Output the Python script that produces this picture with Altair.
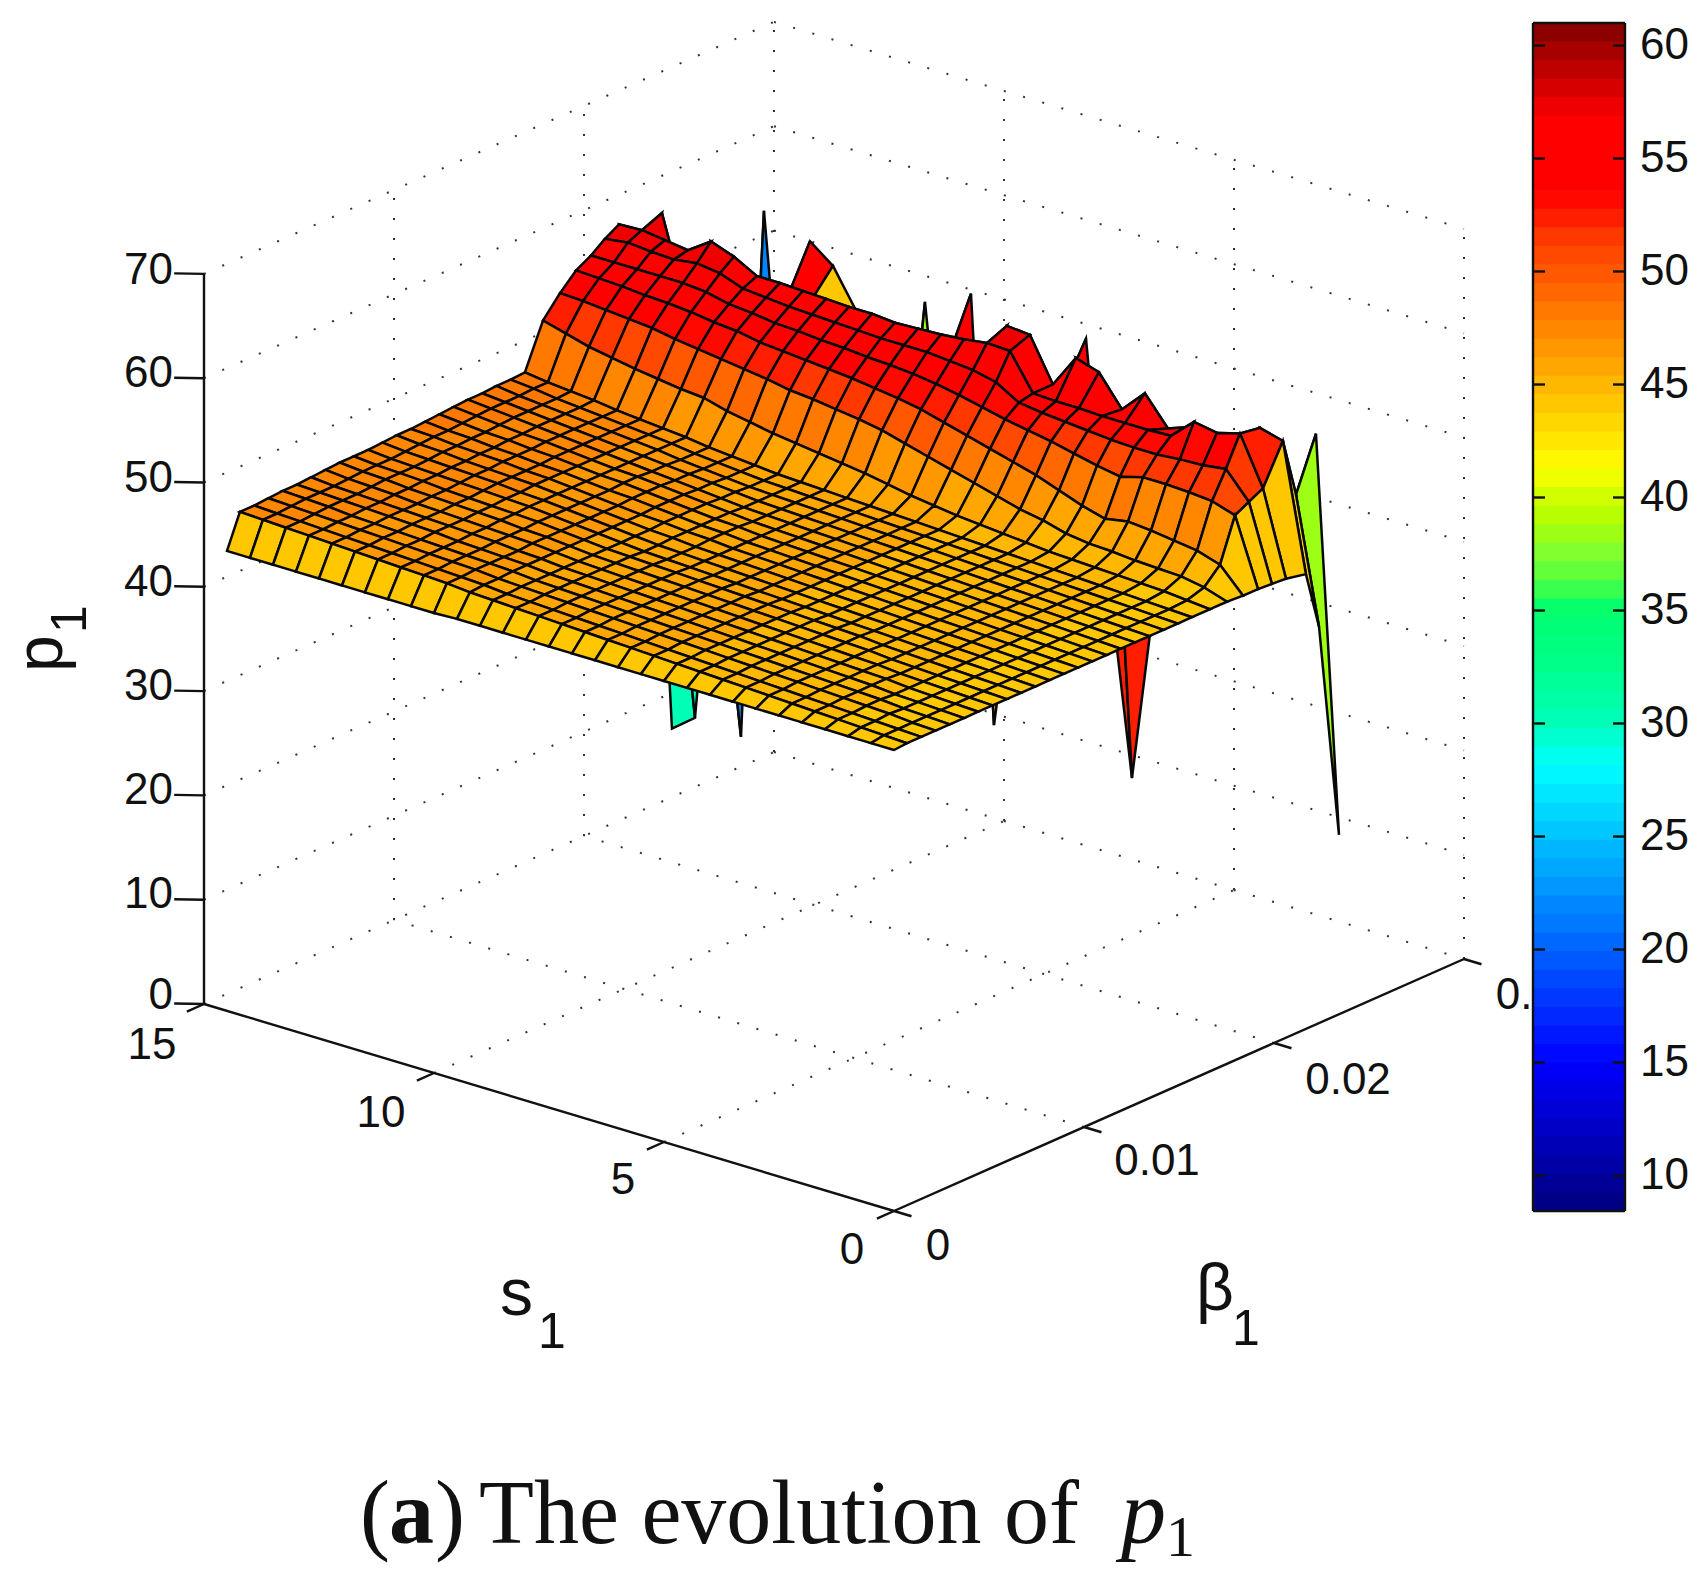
import altair as alt
import pandas as pd

# axes
s_ticks = [0, 5, 10, 15]
beta_ticks = [0, 0.01, 0.02, 0.03]
p_ticks = [0, 10, 20, 30, 40, 50, 60, 70]
cbar_ticks = [10, 15, 20, 25, 30, 35, 40, 45, 50, 55, 60]

s1 = [i * 0.5 for i in range(30)]
beta1 = [0, 0.00068, 0.00143, 0.00218, 0.00293, 0.00368, 0.00443, 0.00518, 0.00593,
         0.00668, 0.00743, 0.00818, 0.00893, 0.00968, 0.01043, 0.01118, 0.01193,
         0.01268, 0.01343, 0.01418, 0.01493, 0.01568,
         0.01663, 0.01753, 0.01837, 0.01916, 0.01989, 0.02063, 0.02168, 0.02237, 0.02342]

# p1, one row per beta1, s1 ascending
p1 = [
    [44.2, 44.2, 44.2, 44.2, 44.2, 44.2, 44.2, 44.2, 44.2, 44.2, 44.2, 44.2, 44.2, 44.2, 44.2, 44.2, 44.2, 44.2, 44.2, 44.2, 44.1, 44.1, 44.1, 44.1, 44.1, 44.1, 44.1, 44.1, 44.1, 44.1],
    [44.3, 44.4, 44.5, 44.6, 44.7, 44.8, 44.9, 45.0, 45.1, 45.2, 45.3, 45.4, 45.5, 45.6, 45.7, 45.8, 45.9, 46.0, 46.1, 46.2, 46.4, 46.5, 46.6, 46.7, 46.8, 46.9, 47.0, 47.1, 47.2, 47.3],
    [44.3, 44.4, 44.5, 44.6, 44.7, 44.8, 44.9, 45.0, 45.1, 45.2, 45.3, 45.4, 45.5, 45.6, 45.7, 45.8, 45.9, 46.0, 46.1, 46.3, 46.4, 46.5, 46.6, 46.7, 46.8, 46.9, 47.0, 47.1, 47.2, 47.3],
    [44.3, 44.4, 44.6, 44.7, 44.8, 44.9, 45.0, 45.1, 45.2, 45.3, 45.4, 45.5, 45.6, 45.7, 45.8, 45.9, 46.0, 46.1, 46.2, 46.3, 46.5, 46.6, 46.7, 46.8, 46.9, 47.0, 47.1, 47.2, 47.3, 47.4],
    [44.3, 44.4, 44.5, 44.7, 44.8, 44.9, 45.0, 45.1, 45.2, 45.3, 45.4, 45.5, 45.6, 45.7, 45.8, 45.9, 46.0, 46.1, 46.2, 46.4, 46.5, 46.6, 46.7, 46.8, 46.9, 47.0, 47.1, 47.3, 47.4, 47.5],
    [44.3, 44.4, 44.5, 44.6, 44.8, 44.9, 45.0, 45.1, 45.2, 45.3, 45.4, 45.5, 45.6, 45.7, 45.8, 45.9, 46.0, 46.1, 46.2, 46.4, 46.5, 46.6, 46.7, 46.9, 47.0, 47.1, 47.2, 47.3, 47.4, 47.5],
    [44.3, 44.4, 44.5, 44.6, 44.8, 44.9, 45.0, 45.1, 45.2, 45.3, 45.4, 45.5, 45.6, 45.7, 45.8, 45.9, 46.0, 46.1, 46.2, 46.4, 46.5, 46.7, 46.8, 46.9, 47.0, 47.1, 47.2, 47.3, 47.4, 47.6],
    [44.3, 44.4, 44.5, 44.6, 44.7, 44.9, 45.0, 45.1, 45.2, 45.3, 45.4, 45.5, 45.6, 45.7, 45.8, 45.9, 46.0, 46.1, 46.2, 46.4, 46.6, 46.7, 46.8, 46.9, 47.0, 47.1, 47.3, 47.4, 47.5, 47.7],
    [44.3, 44.4, 44.5, 44.6, 44.7, 44.8, 45.0, 45.1, 45.2, 45.3, 45.4, 45.5, 45.6, 45.7, 45.8, 45.9, 46.0, 46.1, 46.2, 46.4, 46.6, 46.7, 46.9, 47.0, 47.1, 47.2, 47.3, 47.5, 47.6, 47.8],
    [44.3, 44.4, 44.5, 44.6, 44.7, 44.8, 44.9, 45.1, 45.2, 45.3, 45.4, 45.5, 45.6, 45.7, 45.8, 45.9, 46.0, 46.1, 46.2, 46.4, 46.6, 46.8, 46.9, 47.0, 47.1, 47.2, 47.4, 47.5, 47.6, 47.8],
    [44.3, 44.4, 44.5, 44.6, 44.7, 44.8, 44.9, 45.0, 45.1, 45.2, 45.3, 45.4, 45.5, 45.6, 45.7, 45.8, 45.9, 46.0, 46.2, 46.4, 46.6, 46.8, 47.0, 47.1, 47.2, 47.3, 47.4, 47.5, 47.6, 47.8],
    [44.3, 44.4, 44.5, 44.6, 44.7, 44.8, 44.9, 45.0, 45.1, 45.2, 45.3, 45.4, 45.5, 45.6, 45.7, 45.8, 45.9, 46.0, 46.2, 46.4, 46.6, 46.8, 47.0, 47.1, 47.3, 47.4, 47.5, 47.6, 47.7, 47.9],
    [44.3, 44.4, 44.5, 44.6, 44.7, 44.8, 44.9, 45.0, 45.1, 45.2, 45.3, 45.4, 45.5, 45.6, 45.7, 45.8, 45.9, 46.1, 46.2, 46.4, 46.6, 46.8, 47.0, 47.2, 47.3, 47.4, 47.5, 47.7, 47.8, 48.0],
    [44.3, 44.4, 44.5, 44.6, 44.7, 44.8, 44.9, 45.0, 45.1, 45.2, 45.3, 45.4, 45.5, 45.6, 45.7, 45.8, 46.0, 46.1, 46.3, 46.4, 46.6, 46.8, 47.0, 47.2, 47.3, 47.5, 47.6, 47.7, 47.9, 48.0],
    [44.3, 44.4, 44.5, 44.6, 44.7, 44.8, 44.9, 45.0, 45.1, 45.2, 45.3, 45.4, 45.5, 45.6, 45.7, 45.8, 46.0, 46.1, 46.3, 46.5, 46.7, 46.8, 47.0, 47.2, 47.3, 47.5, 47.6, 47.8, 47.9, 48.1],
    [44.3, 44.4, 44.5, 44.6, 44.7, 44.8, 44.9, 45.0, 45.1, 45.2, 45.3, 45.4, 45.5, 45.6, 45.7, 45.8, 46.0, 46.1, 46.3, 46.5, 46.7, 46.9, 47.0, 47.2, 47.4, 47.5, 47.7, 47.8, 48.0, 48.2],
    [44.3, 44.4, 44.5, 44.6, 44.7, 44.8, 44.9, 45.0, 45.1, 45.2, 45.3, 45.4, 45.5, 45.6, 45.7, 45.8, 45.9, 46.1, 46.3, 46.5, 46.7, 46.9, 47.0, 47.2, 47.4, 47.6, 47.7, 47.9, 48.1, 48.3],
    [44.3, 44.4, 44.5, 44.6, 44.7, 44.8, 44.9, 45.0, 45.1, 45.2, 45.3, 45.4, 45.5, 45.6, 45.7, 45.8, 45.9, 46.0, 46.2, 46.4, 46.6, 46.8, 47.0, 47.2, 47.4, 47.6, 47.8, 48.0, 48.2, 48.4],
    [44.3, 44.4, 44.5, 44.6, 44.7, 44.8, 44.9, 45.0, 45.1, 45.2, 45.3, 45.4, 45.5, 45.6, 45.7, 45.8, 45.9, 46.0, 46.2, 46.4, 46.6, 46.8, 47.0, 47.2, 47.4, 47.6, 47.8, 48.0, 48.2, 48.4],
    [44.3, 44.4, 44.5, 44.6, 44.7, 44.8, 44.9, 45.0, 45.1, 45.2, 45.3, 45.4, 45.5, 45.6, 45.7, 45.8, 45.9, 46.0, 46.1, 46.3, 46.5, 46.7, 47.0, 47.2, 47.4, 47.6, 47.8, 48.0, 48.2, 48.5],
    [44.3, 44.4, 44.5, 44.6, 44.7, 44.8, 44.9, 45.0, 45.1, 45.2, 45.3, 45.4, 45.5, 45.6, 45.7, 45.8, 45.9, 46.0, 46.1, 46.3, 46.5, 46.7, 47.0, 47.2, 47.4, 47.6, 47.8, 48.0, 48.3, 48.5],
    [44.3, 44.4, 44.5, 44.6, 44.7, 44.8, 44.9, 45.0, 45.1, 45.2, 45.3, 45.4, 45.5, 45.6, 45.7, 45.8, 45.9, 46.0, 46.1, 46.3, 46.5, 46.7, 47.0, 47.2, 47.4, 47.6, 47.9, 48.1, 48.3, 48.6],
    [44.3, 44.5, 44.7, 44.8, 44.9, 45.0, 45.1, 45.2, 45.4, 45.6, 45.8, 46.0, 46.3, 46.6, 47.0, 47.4, 47.7, 48.0, 48.3, 48.6, 49.0, 49.4, 50.0, 50.2, 50.5, 50.8, 51.2, 51.6, 52.2, 52.8],
    [44.3, 45.0, 45.4, 45.5, 45.6, 45.8, 45.9, 46.2, 46.8, 47.2, 47.8, 48.4, 49.0, 49.6, 50.2, 50.8, 51.2, 51.5, 51.8, 52.0, 52.4, 52.7, 53.0, 53.3, 53.6, 54.0, 54.2, 54.4, 54.6, 54.7],
    [44.2, 46.5, 47.2, 47.5, 47.8, 48.0, 47.6, 48.2, 49.0, 49.8, 50.4, 51.0, 51.6, 52.2, 52.8, 53.2, 53.5, 53.8, 54.0, 54.2, 54.4, 54.6, 55.0, 55.2, 55.5, 55.7, 55.8, 56.0, 56.1, 56.2],
    [44.2, 50.6, 51.3, 51.5, 51.6, 51.6, 51.0, 51.4, 51.9, 52.4, 52.8, 53.2, 53.7, 54.2, 54.6, 54.9, 55.1, 55.2, 55.4, 55.5, 55.7, 55.8, 56.1, 56.3, 56.8, 57.0, 57.0, 57.0, 57.0, 57.0],
    [44.1, 51.3, 53.8, 53.5, 53.4, 53.2, 53.2, 53.3, 53.5, 53.7, 53.9, 54.2, 55.5, 56.0, 56.2, 56.4, 56.4, 56.4, 56.5, 56.6, 56.7, 56.8, 57.0, 57.2, 58.0, 58.3, 58.0, 58.1, 58.3, 58.0],
    [44.0, 52.0, 56.6, 56.0, 56.4, 54.4, 54.3, 54.3, 54.3, 54.4, 54.4, 54.5, 57.9, 58.0, 57.7, 57.5, 57.4, 57.3, 57.5, 57.5, 57.6, 57.7, 57.8, 57.8, 59.0, 59.8, 58.3, 58.6, 58.9, 58.8],
    [43.6, 55.7, 56.3, 54.0, 54.0, 54.4, 53.6, 56.3, 54.1, 57.0, 57.7, 54.5, 58.6, 58.8, 52.0, 52.0, 52.0, 52.0, 52.0, 52.0, 52.0, 52.0, 52.0, 52.0, 52.0, 52.0, 52.0, 52.0, 59.7, 50.0],
    [38.0, 50.0, 50.0, 46.0, 46.0, 46.0, 46.0, 46.0, 52.5, 52.5, 54.0, 54.0, 46.0, 46.0, 46.0, 54.0, 54.0, 38.0, 38.0, 46.0, 46.0, 44.0, 55.0, 55.0, 22.0, 22.0, 28.0, 30.0, 30.0, 46.0],
    [17.2, 55.0, 42.0, 42.0, 42.0, 42.0, 35.0, 35.0, 35.0, 16.7, 35.0, 57.5, 35.0, 35.0, 35.0, 17.8, 58.5, 35.0, 56.4, 35.0, 35.0, 53.6, 57.2, 58.9, 35.0, 60.5, 9.4, 35.0, 9.9, 8.2],
]

CBAR_MIN, CBAR_MAX = 8.4, 61.0
W, H = 1684, 1561

# the green and red stretches of the reference colorbar are not plain jet
color_stops = [(28.1, (0, 255, 255)), (30, (0, 255, 185)), (33, (0, 255, 130)), (35, (0, 255, 112)),
               (36.3, (80, 255, 64)), (37.5, (128, 255, 48)), (39, (176, 255, 0)),
               (40, (208, 255, 0)), (41.3, (255, 255, 0))]
red_stops = [(52.0, (255, 40, 0)), (53.5, (255, 0, 0)), (56.8, (255, 0, 0)), (57.7, (226, 0, 0)),
             (58.5, (204, 0, 0)), (60, (160, 0, 0)), (61, (128, 0, 0))]


def jet(t):
    v = CBAR_MIN + t * (CBAR_MAX - CBAR_MIN)
    for stops in (color_stops, red_stops):
        for (v0, c0), (v1, c1) in zip(stops, stops[1:]):
            if v0 <= v <= v1:
                f = (v - v0) / (v1 - v0)
                return "#%02x%02x%02x" % tuple(round(a + f * (b - a)) for a, b in zip(c0, c1))

    def ch(c):
        return max(0.0, min(1.0, 1.5 - abs(4 * t - c)))
    r, g, b = ch(3), ch(2), ch(1)
    return "#%02x%02x%02x" % (round(r * 255), round(g * 255), round(b * 255))


jet_colors = [jet((k + 0.5) / 64) for k in range(64)]
color_scale = alt.Scale(type="quantize", domain=[CBAR_MIN, CBAR_MAX], range=jet_colors)
x_scale = alt.Scale(domain=[8, 8 + W], nice=False, zero=False)
y_scale = alt.Scale(domain=[8 + H, 8], nice=False, zero=False)


def project(s, b, p):
    return 894 - 46.0 * s + 19000.0 * b, 1211 - 13.8 * s - 8400.0 * b - 10.43 * p


def cell_colour(p):
    # top of the plateau reads a unit lower in colour than in height
    return p - 1 if p >= 56 else p


def segments(rows):
    out = []
    for a, b in rows:
        x1, y1 = project(*a)
        x2, y2 = project(*b)
        out.append({"x": x1, "y": y1, "x2": x2, "y2": y2})
    return pd.DataFrame(out)


def rules(rows, **mark):
    return alt.Chart(segments(rows)).mark_rule(**mark).encode(
        x=alt.X("x:Q", scale=x_scale, axis=None),
        y=alt.Y("y:Q", scale=y_scale, axis=None),
        x2="x2:Q",
        y2="y2:Q",
    )


def label(text, x, y, size=44, align="center", baseline="middle", font="Liberation Sans", **kw):
    df = pd.DataFrame({"x": [x], "y": [y], "t": [text]})
    return alt.Chart(df).mark_text(
        align=align, baseline=baseline, fontSize=size, font=font, color="#111111", **kw
    ).encode(
        x=alt.X("x:Q", scale=x_scale, axis=None),
        y=alt.Y("y:Q", scale=y_scale, axis=None),
        text="t:N",
    )


# dotted box
S_MAX, B_MAX, P_MAX = 15, 0.03, 70
grid = []
for p in p_ticks:
    grid.append(((S_MAX, 0, p), (S_MAX, B_MAX, p)))
    grid.append(((S_MAX, B_MAX, p), (0, B_MAX, p)))
for b in beta_ticks[1:]:
    grid.append(((S_MAX, b, 0), (S_MAX, b, P_MAX)))
for s in s_ticks[:-1]:
    grid.append(((s, B_MAX, 0), (s, B_MAX, P_MAX)))
for s in s_ticks[1:-1]:
    grid.append(((s, 0, 0), (s, B_MAX, 0)))
for b in beta_ticks[1:-1]:
    grid.append(((0, b, 0), (S_MAX, b, 0)))
grid_layer = rules(grid, color="#333333", strokeWidth=2, strokeDash=[2, 18])

# surface quads, back to front
features = []
for j in range(len(beta1) - 2, -1, -1):
    for i in range(len(s1) - 2, -1, -1):
        corners = [(i, j), (i + 1, j), (i + 1, j + 1), (i, j + 1), (i, j)]
        ring = [list(project(s1[a], beta1[b], p1[b][a])) for a, b in corners]
        features.append({
            "type": "Feature",
            "properties": {"c": cell_colour(p1[j][i])},
            "geometry": {"type": "Polygon", "coordinates": [ring]},
        })

surface = alt.Chart(alt.Data(values=features)).mark_geoshape(
    stroke="#080808", strokeWidth=2.5
).encode(
    color=alt.Color("properties.c:Q", scale=color_scale, legend=None)
).project(type="identity", scale=1, translate=[-8, -8])

# solid axes and ticks
axes = [
    ((S_MAX, 0, 0), (S_MAX, 0, P_MAX)),
    ((S_MAX, 0, 0), (0, 0, 0)),
    ((0, 0, 0), (0, B_MAX, 0)),
]
for p in p_ticks:
    axes.append(((S_MAX, 0, p), (S_MAX + 0.4, -0.0006, p)))
for s in s_ticks:
    axes.append(((s, 0, 0), (s, -0.0009, 0)))
for b in beta_ticks:
    axes.append(((0, b, 0), (-0.38, b, 0)))
axes_layer = rules(axes, color="#111111", strokeWidth=2.4)

# colorbar
CBAR_TOP, CBAR_BOTTOM = 23.0, 1211.0
CBAR_L, CBAR_R = 1533, 1625
level_h = (CBAR_BOTTOM - CBAR_TOP) / 64
cbar_df = pd.DataFrame({
    "c": [CBAR_MIN + (k + 0.5) * (CBAR_MAX - CBAR_MIN) / 64 for k in range(64)],
    "y": [CBAR_BOTTOM - k * level_h for k in range(64)],
    "y2": [CBAR_BOTTOM - (k + 1) * level_h - 0.7 for k in range(64)],
    "x": [CBAR_L] * 64,
    "x2": [CBAR_R] * 64,
})
cbar = alt.Chart(cbar_df).mark_rect().encode(
    x=alt.X("x:Q", scale=x_scale, axis=None),
    x2="x2:Q",
    y=alt.Y("y:Q", scale=y_scale, axis=None),
    y2="y2:Q",
    color=alt.Color("c:Q", scale=color_scale, legend=None),
)


def cbar_y(v):
    return 45.5 + (60 - v) * 22.6


frame = [
    {"x": CBAR_L, "y": CBAR_TOP, "x2": CBAR_L, "y2": CBAR_BOTTOM},
    {"x": CBAR_R, "y": CBAR_TOP, "x2": CBAR_R, "y2": CBAR_BOTTOM},
    {"x": CBAR_L, "y": CBAR_TOP, "x2": CBAR_R, "y2": CBAR_TOP},
    {"x": CBAR_L, "y": CBAR_BOTTOM, "x2": CBAR_R, "y2": CBAR_BOTTOM},
]
for v in cbar_ticks:
    frame.append({"x": CBAR_L, "y": cbar_y(v), "x2": CBAR_L + 12, "y2": cbar_y(v)})
    frame.append({"x": CBAR_R - 12, "y": cbar_y(v), "x2": CBAR_R, "y2": cbar_y(v)})
frame_layer = alt.Chart(pd.DataFrame(frame)).mark_rule(color="#111111", strokeWidth=2.4).encode(
    x=alt.X("x:Q", scale=x_scale, axis=None),
    y=alt.Y("y:Q", scale=y_scale, axis=None),
    x2="x2:Q",
    y2="y2:Q",
)

# text
texts = []
p_label_y = [996, 895, 791, 687, 583, 479, 374, 271]
for p, y in zip(p_ticks, p_label_y):
    texts.append(label(str(p), 173, y, align="right"))
for t, x, y in [("15", 152, 1046), ("10", 381, 1114), ("5", 623, 1181), ("0", 852, 1251)]:
    texts.append(label(t, x, y))
for t, x, y in [("0", 938, 1247), ("0.01", 1157, 1162), ("0.02", 1348, 1081), ("0.", 1514, 996)]:
    texts.append(label(t, x, y))
for v in cbar_ticks:
    texts.append(label(str(v), 1640, cbar_y(v), align="left"))

texts.append(label("s", 500, 1315, size=66, align="left", baseline="alphabetic"))
texts.append(label("1", 538, 1348, size=50, align="left", baseline="alphabetic"))
texts.append(label("β", 1196, 1310, size=66, align="left", baseline="alphabetic"))
texts.append(label("1", 1232, 1345, size=50, align="left", baseline="alphabetic"))
texts.append(label("p", 62, 672, size=66, align="left", baseline="alphabetic", angle=270))
texts.append(label("1", 86, 633, size=50, align="left", baseline="alphabetic", angle=270))

CAPTION = "Liberation Serif"
texts.append(label("(", 360, 1543, size=90, align="left", baseline="alphabetic", font=CAPTION))
texts.append(label("a", 389, 1543, size=90, align="left", baseline="alphabetic", font=CAPTION, fontWeight="bold"))
texts.append(label(")", 435, 1543, size=90, align="left", baseline="alphabetic", font=CAPTION))
texts.append(label("The evolution of", 479, 1543, size=90, align="left", baseline="alphabetic", font=CAPTION))
texts.append(label("p", 1121, 1543, size=90, align="left", baseline="alphabetic", font=CAPTION, fontStyle="italic"))
texts.append(label("1", 1166, 1556, size=58, align="left", baseline="alphabetic", font=CAPTION))

chart = alt.layer(grid_layer, surface, axes_layer, cbar, frame_layer, *texts).properties(
    width=W, height=H, padding=0, autosize=alt.AutoSizeParams(type="none"), background="white"
).configure_view(stroke=None)

chart.save("out.html", embed_options={"renderer": "svg", "actions": False})
